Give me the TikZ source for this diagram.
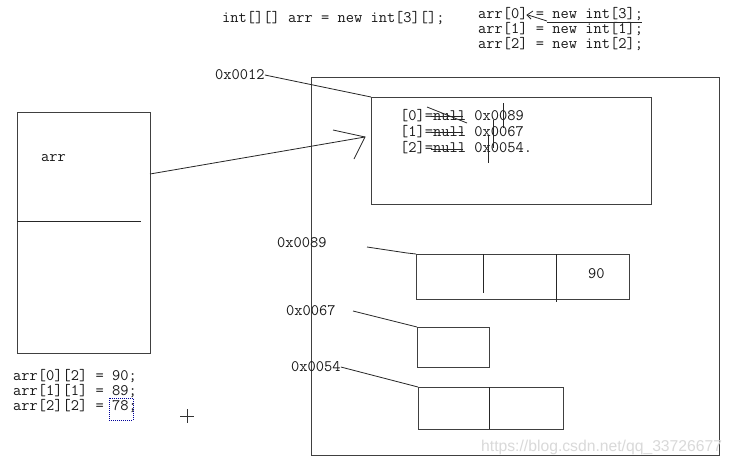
\documentclass[tikz,border=0pt]{standalone}
\usepackage{fontspec}
\newfontfamily\wmfont{Liberation Sans}
\begin{document}
\begin{tikzpicture}[x=1pt,y=-1pt,
  code/.style={font=\ttfamily\fontsize{16}{15}\selectfont, inner sep=0pt, anchor=west, text=black!90},
  ln/.style={draw=black!85, line width=0.8pt},
  box/.style={draw=black!75, line width=0.9pt, inner sep=0pt, anchor=north west},
]
\useasboundingbox[fill=white] (0,0) rectangle (734,466);

% top code
\node[code] (decl) at (222,18) {int[][] arr = new int[3][];};
\node[code] (l0) at (478,14) {arr[0] = new int[3];};
\node[code] (l1) at (478,29) {arr[1] = new int[1];};
\node[code] (l2) at (478,44) {arr[2] = new int[2];};
\draw[ln] (547,22) -- (642,22);
\draw[ln] (547,21) -- (528,15);
\draw[ln] (533,11) -- (527,15) -- (531,19);

% boxes
\node[box, minimum width=408, minimum height=378] (heap) at (311,77) {};
\node[box, minimum width=280, minimum height=107] (inner) at (371,97) {};
\node[box, minimum width=133, minimum height=241] (stack) at (17,112) {};
\draw[ln] (stack.west |- 0,221) -- (141,221);
\node[code] (arr) at (41,158) {arr};

% 0x0012
\node[code] (h12) at (215,75) {0x0012};
\draw[ln] (h12.east) -- (inner.north west);

% arrow stack -> inner
\coordinate (arrstart) at (150,174);
\coordinate (tip) at (365,137);
\draw[ln] (arrstart) -- (tip);
\draw[ln] (333,130) -- (tip) -- (354,159);

% inner text
\node[code] (r0) at (400,116) {[0]=null 0x0089};
\node[code] (r1) at (400,132) {[1]=null 0x0067};
\node[code] (r2) at (400,148) {[2]=null 0x0054.};
\draw[ln] (427,107) -- (467,123);
\draw[ln] (431,116) -- (463,116);
\draw[ln] (431,132) -- (463,132);
\draw[ln] (431,149) -- (463,149);
\draw[ln] (503,103) -- (503,128);
\draw[ln] (493,120) -- (493,148);
\draw[ln] (488,135) -- (488,163);

% heap arrays
\node[box, minimum width=213, minimum height=45] (a) at (416,254) {};
\draw[ln] (483,254) -- (483,293);
\draw[ln] (556,254) -- (556,302);
\node[code] (v90) at (588,274) {90};
\node[code] (h89) at (277,243) {0x0089};
\coordinate (p89) at (367,247);
\draw[ln] (p89) -- (407,253) -- (a.north west);

\node[box, minimum width=72, minimum height=40] (b) at (417,327) {};
\node[code] (h67) at (286,311) {0x0067};
\coordinate (p67) at (353,311);
\draw[ln] (p67) -- (b.north west);

\node[box, minimum width=145, minimum height=42] (c) at (418,387) {};
\draw[ln] (489,387) -- (489,429);
\node[code] (h54) at (291,367) {0x0054};
\draw[ln] (h54.east) -- (c.north west);

% bottom-left code
\node[code] (s0) at (13,376) {arr[0][2] = 90;};
\node[code] (s1) at (13,391) {arr[1][1] = 89;};
\node[code] (s2) at (13,406) {arr[2][2] = 78;};
\draw[blue!60!black, densely dotted, line width=1pt] (109,398) rectangle (133,420);

% cursor
\draw[black!80, line width=0.7pt] (187,409) -- (187,423);
\draw[black!80, line width=0.7pt] (180,416) -- (194,416);

% watermark
\node[font=\wmfont\fontsize{15.7}{15}\selectfont, text=black!15, inner sep=0pt, anchor=west] (wm) at (481,447) {https://blog.csdn.net/qq\_33726677};
\end{tikzpicture}
\end{document}
